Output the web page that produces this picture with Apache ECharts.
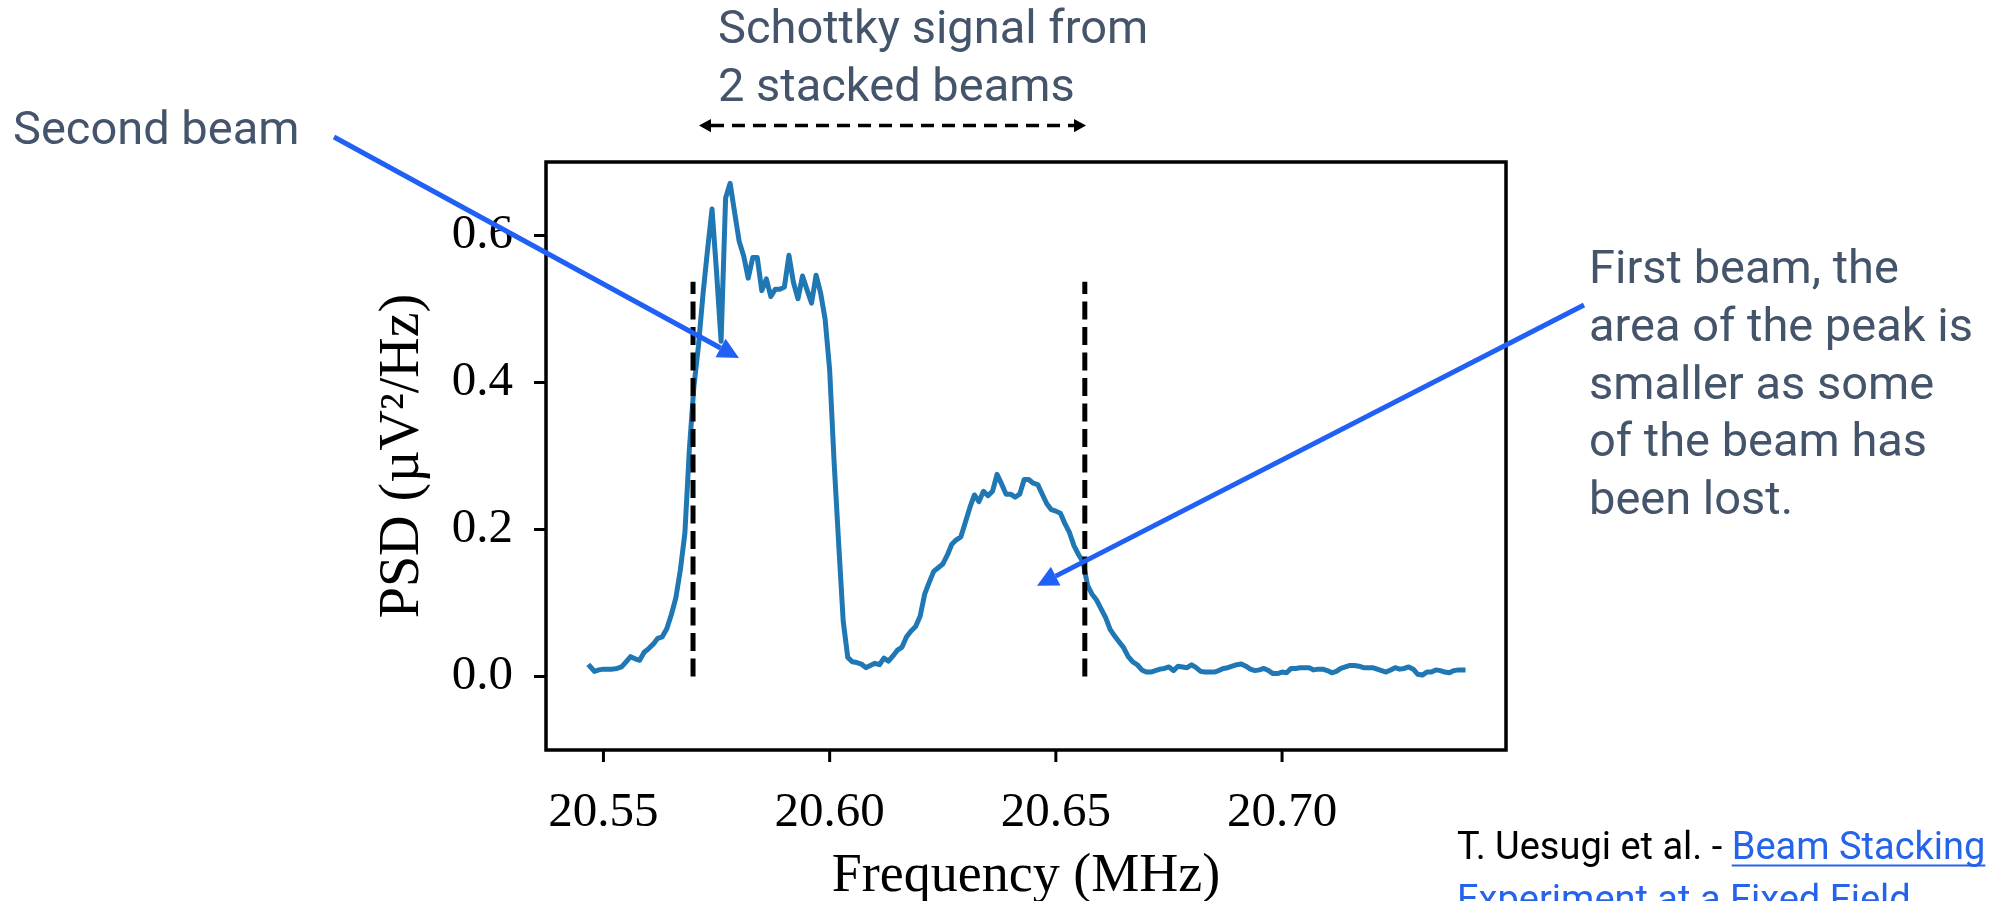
<!DOCTYPE html>
<html>
<head>
<meta charset="utf-8">
<script src="https://cdn.jsdelivr.net/npm/echarts@6/dist/echarts.min.js"></script>
<style>
  html, body { margin: 0; padding: 0; background: #ffffff; }
  #chart { width: 1990px; height: 901px; }
</style>
</head>
<body>
<div id="chart"></div>
<script>
// Frequency bins (MHz) of the Schottky spectrum
const freqMHz = [
  20.547, 20.548, 20.549, 20.550, 20.551, 20.552, 20.553, 20.554, 20.555, 20.556,
  20.557, 20.558, 20.559, 20.560, 20.561, 20.562, 20.563, 20.564, 20.565, 20.566,
  20.567, 20.568, 20.569, 20.570, 20.571, 20.572, 20.573, 20.574, 20.575, 20.576,
  20.577, 20.578, 20.579, 20.580, 20.581, 20.582, 20.583, 20.584, 20.585, 20.586,
  20.587, 20.588, 20.589, 20.590, 20.591, 20.592, 20.593, 20.594, 20.595, 20.596,
  20.597, 20.598, 20.599, 20.600, 20.601, 20.602, 20.603, 20.604, 20.605, 20.606,
  20.607, 20.608, 20.609, 20.610, 20.611, 20.612, 20.613, 20.614, 20.615, 20.616,
  20.617, 20.618, 20.619, 20.620, 20.621, 20.622, 20.623, 20.624, 20.625, 20.626,
  20.627, 20.628, 20.629, 20.630, 20.631, 20.632, 20.633, 20.634, 20.635, 20.636,
  20.637, 20.638, 20.639, 20.640, 20.641, 20.642, 20.643, 20.644, 20.645, 20.646,
  20.647, 20.648, 20.649, 20.650, 20.651, 20.652, 20.653, 20.654, 20.655, 20.656,
  20.657, 20.658, 20.659, 20.660, 20.661, 20.662, 20.663, 20.664, 20.665, 20.666,
  20.667, 20.668, 20.669, 20.670, 20.671, 20.672, 20.673, 20.674, 20.675, 20.676,
  20.677, 20.678, 20.679, 20.680, 20.681, 20.682, 20.683, 20.684, 20.685, 20.686,
  20.687, 20.688, 20.689, 20.690, 20.691, 20.692, 20.693, 20.694, 20.695, 20.696,
  20.697, 20.698, 20.699, 20.700, 20.701, 20.702, 20.703, 20.704, 20.705, 20.706,
  20.707, 20.708, 20.709, 20.710, 20.711, 20.712, 20.713, 20.714, 20.715, 20.716,
  20.717, 20.718, 20.719, 20.720, 20.721, 20.722, 20.723, 20.724, 20.725, 20.726,
  20.727, 20.728, 20.729, 20.730, 20.731, 20.732, 20.733, 20.734, 20.735, 20.736,
  20.737, 20.738, 20.739, 20.740
];

// Power spectral density (µV²/Hz) for each bin
const psd = [
  0.014, 0.007, 0.009, 0.010, 0.010, 0.010, 0.011, 0.013, 0.020, 0.027,
  0.024, 0.022, 0.033, 0.038, 0.044, 0.052, 0.054, 0.065, 0.084, 0.107,
  0.145, 0.195, 0.310, 0.395, 0.450, 0.520, 0.580, 0.636, 0.550, 0.456,
  0.651, 0.671, 0.631, 0.592, 0.572, 0.542, 0.570, 0.570, 0.525, 0.541,
  0.517, 0.527, 0.527, 0.530, 0.573, 0.536, 0.514, 0.545, 0.526, 0.508,
  0.546, 0.522, 0.486, 0.417, 0.290, 0.180, 0.075, 0.026, 0.020, 0.019,
  0.017, 0.012, 0.015, 0.018, 0.016, 0.025, 0.021, 0.028, 0.036, 0.040,
  0.054, 0.062, 0.068, 0.082, 0.112, 0.128, 0.143, 0.148, 0.153, 0.165,
  0.180, 0.186, 0.190, 0.210, 0.230, 0.247, 0.238, 0.252, 0.246, 0.252,
  0.275, 0.262, 0.248, 0.248, 0.244, 0.248, 0.268, 0.268, 0.263, 0.261,
  0.248, 0.235, 0.227, 0.225, 0.222, 0.208, 0.196, 0.178, 0.166, 0.156,
  0.124, 0.112, 0.104, 0.092, 0.080, 0.064, 0.055, 0.047, 0.039, 0.027,
  0.020, 0.016, 0.009, 0.006, 0.006, 0.008, 0.010, 0.011, 0.013, 0.008,
  0.014, 0.013, 0.012, 0.016, 0.012, 0.007, 0.006, 0.006, 0.006, 0.008,
  0.011, 0.012, 0.014, 0.016, 0.017, 0.014, 0.010, 0.008, 0.009, 0.011,
  0.008, 0.004, 0.004, 0.006, 0.005, 0.011, 0.011, 0.012, 0.012, 0.012,
  0.009, 0.010, 0.010, 0.008, 0.005, 0.007, 0.011, 0.013, 0.015, 0.015,
  0.014, 0.012, 0.012, 0.012, 0.010, 0.008, 0.006, 0.009, 0.012, 0.010,
  0.011, 0.013, 0.010, 0.003, 0.002, 0.006, 0.006, 0.009, 0.008, 0.006,
  0.005, 0.008, 0.009, 0.009
];

// Axis ticks
const xTickValues = [20.55, 20.60, 20.65, 20.70];
const yTickValues = [0.0, 0.2, 0.4, 0.6];

// Limits of the two stacked beams (dashed markers)
const stackEdgesMHz = [20.5698, 20.6564];
const edgeLineTop = 0.537;

// Axis limits
const xMin = 20.5373, xMax = 20.7495;
const yMin = -0.1, yMax = 0.7;

// Slide annotations
const topNote = 'Schottky signal from\n2 stacked beams';
const secondBeamNote = 'Second beam';
const firstBeamNote = 'First beam, the\narea of the peak is\nsmaller as some\nof the beam has\nbeen lost.';
const citePrefix = 'T. Uesugi et al. - ';
const citeLink1 = 'Beam Stacking';
const citeLink2 = 'Experiment at a Fixed Field';

const SERIF = '"Liberation Serif", "DejaVu Serif", serif';
const SANS = 'Roboto, "Noto Sans", sans-serif';
const NOTE_COLOR = '#44546a';
const ARROW_BLUE = '#2160f5';
const LINK_BLUE = '#2563eb';

function measure(text, font) {
  const ctx = document.createElement('canvas').getContext('2d');
  ctx.font = font;
  return ctx.measureText(text).width;
}

function arrow(x1, y1, x2, y2, o) {
  const dx = x2 - x1, dy = y2 - y1;
  const L = Math.hypot(dx, dy);
  const ux = dx / L, uy = dy / L;
  const bx = x2 - ux * o.head, by = y2 - uy * o.head;
  const px = -uy, py = ux;
  return [
    { type: 'line', z: 100, silent: true,
      shape: { x1: x1, y1: y1, x2: bx, y2: by },
      style: { stroke: o.color, lineWidth: o.width, lineDash: o.dash || null } },
    { type: 'polygon', z: 100, silent: true,
      shape: { points: [[x2, y2], [bx + px * o.half, by + py * o.half], [bx - px * o.half, by - py * o.half]] },
      style: { fill: o.color } }
  ];
}

const chart = echarts.init(document.getElementById('chart'), null, { renderer: 'canvas' });

const spectrum = freqMHz.map((f, i) => [f, psd[i]]);
const edgeSeries = stackEdgesMHz.map(f => ({
  type: 'line',
  data: [[f, 0], [f, edgeLineTop]],
  showSymbol: false,
  silent: true,
  z: 3,
  lineStyle: { color: '#000000', width: 5, type: [18, 7.5] },
  animation: false
}));

// Annotation graphics
const graphics = [];
graphics.push({
  type: 'text', x: 718, y: 1.6, z: 100, silent: true,
  style: { text: topNote, font: '47px ' + SANS, fill: NOTE_COLOR, lineHeight: 58.4, verticalAlign: 'top', align: 'left' }
});
graphics.push({
  type: 'text', x: 13, y: 132.4, z: 100, silent: true,
  style: { text: secondBeamNote, font: '47px ' + SANS, fill: NOTE_COLOR, verticalAlign: 'middle', align: 'left' }
});
graphics.push({
  type: 'text', x: 1589, y: 242.6, z: 100, silent: true,
  style: { text: firstBeamNote, font: '47px ' + SANS, fill: NOTE_COLOR, lineHeight: 57.7, verticalAlign: 'top', align: 'left' }
});

// Dashed double arrow spanning the two beams
const hd = 12;
graphics.push({ type: 'line', z: 100, silent: true,
  shape: { x1: 699 + hd, y1: 125.6, x2: 1086 - hd, y2: 125.6 },
  style: { stroke: '#000', lineWidth: 3.5, lineDash: [13, 8] } });
graphics.push({ type: 'polygon', z: 100, silent: true,
  shape: { points: [[699, 125.6], [699 + hd, 119], [699 + hd, 132.2]] }, style: { fill: '#000' } });
graphics.push({ type: 'polygon', z: 100, silent: true,
  shape: { points: [[1086, 125.6], [1086 - hd, 119], [1086 - hd, 132.2]] }, style: { fill: '#000' } });

// Blue pointer arrows
arrow(334, 137, 739, 358, { color: ARROW_BLUE, width: 5, head: 21, half: 10.5 }).forEach(g => graphics.push(g));
arrow(1584, 305, 1037, 585.7, { color: ARROW_BLUE, width: 5, head: 21, half: 10.5 }).forEach(g => graphics.push(g));

// Citation
const citeFont = '38px ' + SANS;
const citeX = 1457;
const citeY1 = 849;
const citeY2 = citeY1 + 53;
const prefixW = measure(citePrefix, citeFont);
const link1W = measure(citeLink1, citeFont);
graphics.push({ type: 'text', x: citeX, y: citeY1, z: 100, silent: true,
  style: { text: citePrefix, font: citeFont, fill: '#000000', verticalAlign: 'middle', align: 'left' } });
graphics.push({ type: 'text', x: citeX + prefixW, y: citeY1, z: 100, silent: true,
  style: { text: citeLink1, font: citeFont, fill: LINK_BLUE, verticalAlign: 'middle', align: 'left' } });
graphics.push({ type: 'line', z: 100, silent: true,
  shape: { x1: citeX + prefixW, y1: citeY1 + 16.5, x2: citeX + prefixW + link1W, y2: citeY1 + 16.5 },
  style: { stroke: LINK_BLUE, lineWidth: 2 } });
graphics.push({ type: 'text', x: citeX, y: citeY2, z: 100, silent: true,
  style: { text: citeLink2, font: citeFont, fill: LINK_BLUE, verticalAlign: 'middle', align: 'left' } });

const option = {
  animation: false,
  backgroundColor: '#ffffff',
  grid: {
    left: 546, right: 484, top: 162, bottom: 151,
    outerBoundsMode: 'none',
    containLabel: false,
    show: true, borderColor: '#000000', borderWidth: 3.5, backgroundColor: 'transparent'
  },
  xAxis: {
    type: 'value',
    position: 'bottom',
    min: xMin,
    max: xMax,
    name: 'Frequency (MHz)',
    nameLocation: 'middle',
    nameGap: 100,
    nameTextStyle: { fontFamily: SERIF, fontSize: 54, color: '#000000' },
    axisLine: { show: false, onZero: false },
    splitLine: { show: false },
    axisTick: { show: false },
    axisLabel: { customValues: xTickValues, formatter: v => v.toFixed(2), fontFamily: SERIF, fontSize: 49, color: '#000000', margin: 39 }
  },
  yAxis: {
    type: 'value',
    position: 'left',
    min: yMin,
    max: yMax,
    name: 'PSD (µV²/Hz)',
    nameLocation: 'middle',
    nameGap: 115,
    nameRotate: 90,
    nameTextStyle: { fontFamily: SERIF, fontSize: 56, color: '#000000' },
    axisLine: { show: false, onZero: false },
    splitLine: { show: false },
    axisTick: { show: true, inside: false, customValues: yTickValues, length: 12, lineStyle: { color: '#000000', width: 3 } },
    axisLabel: { customValues: yTickValues, formatter: v => v.toFixed(1), fontFamily: SERIF, fontSize: 49, color: '#000000', margin: 33 }
  },
  series: [
    {
      type: 'line',
      data: spectrum,
      showSymbol: false,
      silent: true,
      z: 2,
      lineStyle: { color: '#1f77b4', width: 5, join: 'round', cap: 'square' },
      animation: false
    }
  ].concat(edgeSeries),
  graphic: { elements: graphics }
};

chart.setOption(option);

// Outward tick marks on the frequency axis, placed through the axis scale
const xTickMarks = xTickValues.map(v => {
  const p = chart.convertToPixel({ gridIndex: 0 }, [v, yMin]);
  return {
    type: 'line', z: 50, silent: true,
    shape: { x1: p[0], y1: p[1], x2: p[0], y2: p[1] + 12 },
    style: { stroke: '#000000', lineWidth: 3 }
  };
});
chart.setOption({ graphic: { elements: graphics.concat(xTickMarks) } });
</script>
</body>
</html>
